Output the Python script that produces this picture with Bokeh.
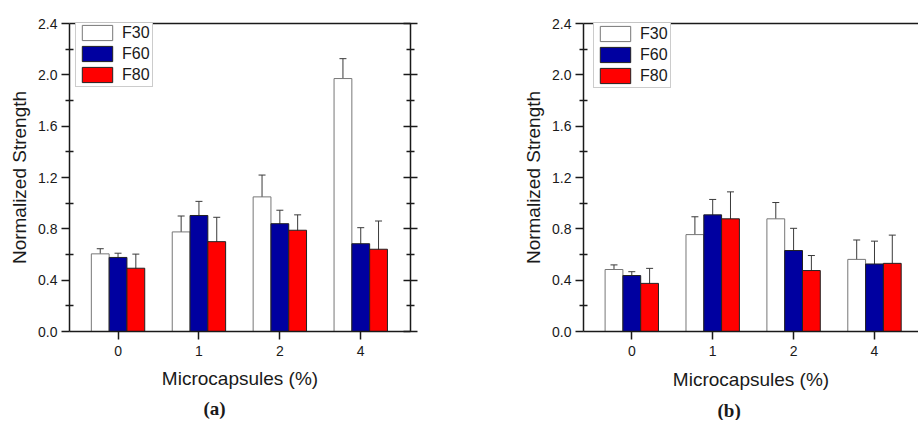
from bokeh.plotting import figure
from bokeh.models import (ColumnDataSource, Range1d, LinearAxis, FixedTicker,
                          PrintfTickFormatter, CustomJSTickFormatter, Whisker, TeeHead,
                          Legend, LegendItem, Title)
from bokeh.transform import dodge
from bokeh.layouts import row
from bokeh.embed import file_html
from bokeh.resources import INLINE

# ---------------- data ----------------
categories = ["0", "1", "2", "4"]
series = ["F30", "F60", "F80"]

# panel (a)
a_f30 = [0.605, 0.776, 1.049, 1.971]
a_f30_err = [0.040, 0.124, 0.170, 0.155]
a_f60 = [0.577, 0.904, 0.840, 0.684]
a_f60_err = [0.033, 0.110, 0.105, 0.125]
a_f80 = [0.493, 0.700, 0.789, 0.641]
a_f80_err = [0.110, 0.190, 0.120, 0.220]

# panel (b)
b_f30 = [0.483, 0.755, 0.878, 0.562]
b_f30_err = [0.036, 0.139, 0.127, 0.151]
b_f60 = [0.436, 0.909, 0.631, 0.526]
b_f60_err = [0.030, 0.120, 0.173, 0.178]
b_f80 = [0.375, 0.878, 0.475, 0.531]
b_f80_err = [0.117, 0.210, 0.117, 0.220]

y_major_ticks = [0.0, 0.4, 0.8, 1.2, 1.6, 2.0, 2.4]
y_minor_ticks = [0.2, 0.6, 1.0, 1.4, 1.8, 2.2]

# ---------------- style ----------------
FONT = "Liberation Sans"
SERIF = "Liberation Serif"
TXT = "#1a1a1a"
AX = "#1a1a1a"
fills = ["#ffffff", "#0000a0", "#ff0000"]
outlines = ["#777777", "#222222", "#222222"]
offsets = [-0.22, 0.0, 0.22]
bar_w = 0.22


def make_panel(vals, errs, x_start, x_end, width, height, left, top, right, bottom,
               legend_xy, caption, cap_offset, right_axis, xlab_offset, xlab_standoff):
    idx = list(range(len(categories)))
    p = figure(width=width, height=height,
               min_border_left=left, min_border_right=right,
               min_border_top=top, min_border_bottom=bottom,
               x_range=Range1d(x_start, x_end), y_range=Range1d(0, 2.4),
               output_backend="svg", toolbar_location=None,
               x_axis_location=None, y_axis_location=None)
    p.outline_line_color = None
    p.background_fill_color = "white"
    p.border_fill_color = "white"
    p.grid.grid_line_color = None
    p.grid.visible = False

    data = dict(x=idx)
    for s, v, e in zip(series, vals, errs):
        data[s] = v
        data[s + "_lo"] = [a - b for a, b in zip(v, e)]
        data[s + "_hi"] = [a + b for a, b in zip(v, e)]
    src = ColumnDataSource(data)

    renderers = []
    for s, off, fc, lc in zip(series, offsets, fills, outlines):
        r = p.vbar(x=dodge("x", off, range=p.x_range), top=s, bottom=0, width=bar_w,
                   source=src, fill_color=fc, line_color=lc, line_width=1)
        renderers.append(r)
        w = Whisker(source=src, base=dodge("x", off, range=p.x_range),
                    upper=s + "_hi", lower=s + "_lo",
                    line_color="#3a3a3a", line_width=1,
                    upper_head=TeeHead(size=7, line_color="#3a3a3a", line_width=1),
                    lower_head=TeeHead(size=7, line_color="#3a3a3a", line_width=1))
        p.add_layout(w)

    yticker = FixedTicker(ticks=y_major_ticks, minor_ticks=y_minor_ticks)

    # left axis
    yax = LinearAxis(ticker=yticker,
                     formatter=PrintfTickFormatter(format="%.1f"),
                     axis_label="Normalized Strength",
                     axis_label_text_font=FONT, axis_label_text_font_size="19px",
                     axis_label_text_font_style="normal", axis_label_text_color=TXT,
                     axis_label_standoff=5,
                     major_label_text_font=FONT, major_label_text_font_size="14px",
                     major_label_text_color=TXT, major_label_standoff=4,
                     axis_line_color=AX, axis_line_width=1.5,
                     major_tick_line_color=AX, major_tick_line_width=1.5,
                     major_tick_in=0, major_tick_out=8,
                     minor_tick_line_color=AX, minor_tick_line_width=1.5,
                     minor_tick_in=4, minor_tick_out=4)
    p.add_layout(yax, "left")

    # bottom axis
    xax = LinearAxis(ticker=FixedTicker(ticks=idx, minor_ticks=[]),
                     major_label_overrides={i: c for i, c in zip(idx, categories)},
                     major_label_text_font=FONT, major_label_text_font_size="14px",
                     major_label_text_color=TXT, major_label_standoff=6,
                     axis_line_color=AX, axis_line_width=1.5,
                     major_tick_line_color=AX, major_tick_line_width=1.5,
                     major_tick_in=0, major_tick_out=8)
    p.add_layout(xax, "below")
    p.add_layout(Title(text="Microcapsules (%)", align="center", offset=xlab_offset,
                       text_font=FONT, text_font_size="19px", text_font_style="normal",
                       text_color=TXT, standoff=xlab_standoff), "below")

    # top line
    tax = LinearAxis(ticker=FixedTicker(ticks=[]), axis_line_color=AX, axis_line_width=1.5,
                     major_tick_in=0, major_tick_out=0, minor_tick_in=0, minor_tick_out=0)
    p.add_layout(tax, "above")

    if right_axis:
        rax = LinearAxis(ticker=yticker,
                         formatter=CustomJSTickFormatter(code="return ''"),
                         axis_line_color=AX, axis_line_width=1.5,
                         major_tick_line_color=AX, major_tick_line_width=1.5,
                         major_tick_in=7, major_tick_out=7,
                         minor_tick_line_color=AX, minor_tick_line_width=1.5,
                         minor_tick_in=4, minor_tick_out=4)
        p.add_layout(rax, "right")

    legend = Legend(items=[LegendItem(label=s, renderers=[r]) for s, r in zip(series, renderers)],
                    location=legend_xy, glyph_width=38, glyph_height=19, label_height=19,
                    label_text_font=FONT, label_text_font_size="16px", label_text_color=TXT,
                    label_standoff=6, spacing=2, padding=2, margin=0,
                    border_line_color="#9a9a9a", border_line_width=1,
                    background_fill_color="white", background_fill_alpha=1)
    p.add_layout(legend, "center")

    p.add_layout(Title(text=caption, align="left", offset=cap_offset,
                       text_font=SERIF, text_font_size="19px", text_font_style="bold",
                       text_color=TXT, standoff=0), "below")
    return p


# panel (a): canvas 460 x 420, frame 341 x 313 at (69, 19)
p1 = make_panel([a_f30, a_f60, a_f80], [a_f30_err, a_f60_err, a_f80_err],
                -0.6, 3.615, 460, 420, 69, 19, 50, 88, (6, 244), "(a)", 134, True, 0, 14)
# panel (b): canvas 458 x 420, frame 335 x 311 at (123, 23)
p2 = make_panel([b_f30, b_f60, b_f80], [b_f30_err, b_f60_err, b_f80_err],
                -0.597, 3.544, 458, 420, 123, 23, 0, 86, (10, 243), "(b)", 134, False, 2, 16)

layout = row(p1, p2)
open("out.html", "w").write(file_html(layout, INLINE))
